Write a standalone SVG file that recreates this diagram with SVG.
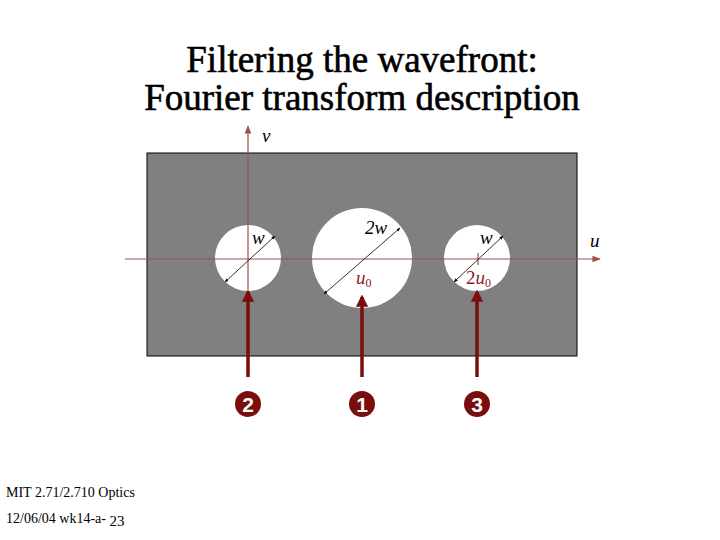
<svg xmlns="http://www.w3.org/2000/svg" width="720" height="540" viewBox="0 0 720 540">
<style>
.t{font-family:"Liberation Serif",serif}
.h{stroke:#000;stroke-width:0.6}
.m{font-family:"Liberation Serif",serif;font-style:italic;font-size:19px}
.r{fill:#8b1a1a}
.d{stroke:#000;stroke-width:0.8}
.ax{stroke:#a05050;stroke-width:1.2}
.big{stroke:#7a0e0e;stroke-width:3.5}
.num{font-family:"Liberation Sans",sans-serif;font-weight:bold;font-size:21px;fill:#fff}
</style>
<defs>
<marker id="ah" viewBox="0 0 10 10" refX="9" refY="5" markerWidth="7" markerHeight="7" orient="auto"><path d="M0,1L10,5L0,9z" fill="#a05050"/></marker>
<marker id="bh" viewBox="0 0 10 10" refX="8" refY="5" markerWidth="3.5" markerHeight="3.5" orient="auto"><path d="M0,0L10,5L0,10z" fill="#7a0e0e"/></marker>
<marker id="dh" viewBox="0 0 10 10" refX="9" refY="5" markerWidth="5" markerHeight="5" orient="auto-start-reverse"><path d="M0,1L10,5L0,9z" fill="#000"/></marker>
</defs>
<rect width="720" height="540" fill="#fff"/>
<text class="t h" x="362" y="72" font-size="37" text-anchor="middle">Filtering the wavefront:</text>
<text class="t h" x="362" y="110" font-size="37" text-anchor="middle">Fourier transform description</text>
<g id="mask">
<rect x="147" y="153" width="430" height="203" fill="#808080" stroke="#000" stroke-width="1"/>
<circle cx="248" cy="258" r="33" fill="#fff"/>
<circle cx="362" cy="258" r="50" fill="#fff"/>
<circle cx="477" cy="258" r="33" fill="#fff"/>
</g>
<g id="connectors">
<line class="ax" x1="125" y1="259" x2="600" y2="259" marker-end="url(#ah)"/>
<line class="ax" x1="248" y1="290" x2="248" y2="126" marker-end="url(#ah)"/>
<line class="ax" x1="478" y1="253" x2="478" y2="265"/>
<line class="d" x1="225" y1="282" x2="275" y2="236" marker-start="url(#dh)" marker-end="url(#dh)"/>
<line class="d" x1="324" y1="294" x2="400" y2="228" marker-start="url(#dh)" marker-end="url(#dh)"/>
<line class="d" x1="454" y1="282" x2="503" y2="236" marker-start="url(#dh)" marker-end="url(#dh)"/>
<line class="big" x1="248" y1="377" x2="248" y2="292" marker-end="url(#bh)"/>
<line class="big" x1="362" y1="377" x2="362" y2="297" marker-end="url(#bh)"/>
<line class="big" x1="477" y1="377" x2="477" y2="292" marker-end="url(#bh)"/>
</g>
<text class="m" x="262" y="142">v</text>
<text class="m" x="590" y="247">u</text>
<text class="m" x="252" y="244">w</text>
<text class="m" x="365" y="234">2w</text>
<text class="m r" x="356" y="284">u<tspan font-size="12" font-style="normal" dy="3">0</tspan></text>
<text class="m" x="480" y="244">w</text>
<text class="m r" x="466" y="284"><tspan font-style="normal">2</tspan>u<tspan font-size="12" font-style="normal" dy="3">0</tspan></text>
<g id="n2"><circle cx="248" cy="404" r="13" fill="#7a0e0e"/><text class="num" x="248" y="411.5" text-anchor="middle">2</text></g>
<g id="n1"><circle cx="362" cy="404" r="13" fill="#7a0e0e"/><text class="num" x="362" y="411.5" text-anchor="middle">1</text></g>
<g id="n3"><circle cx="477" cy="404" r="13" fill="#7a0e0e"/><text class="num" x="477" y="411.5" text-anchor="middle">3</text></g>
<text class="t" x="6" y="497" font-size="14">MIT 2.71/2.710 Optics</text>
<text class="t" x="6" y="523" font-size="14">12/06/04 wk14-a- <tspan font-size="15" dy="3">23</tspan></text>
</svg>
